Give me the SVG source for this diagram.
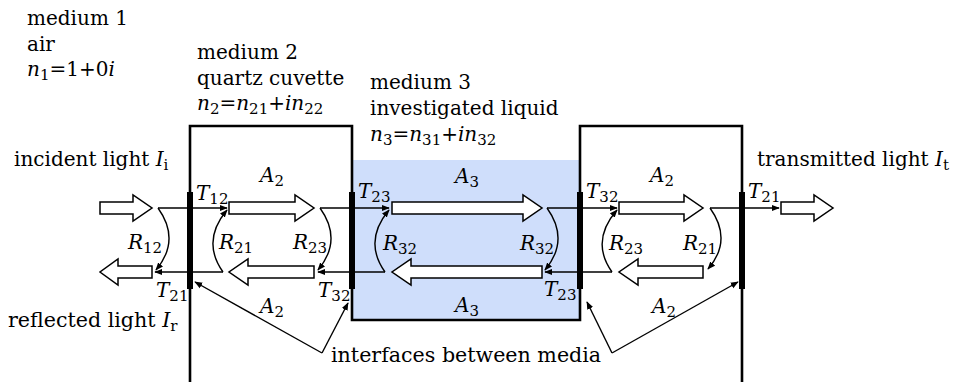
<svg xmlns="http://www.w3.org/2000/svg" width="957" height="382" viewBox="0 0 957 382">
<style>
text{font-family:"DejaVu Serif","Liberation Serif",serif;font-size:20px;fill:#000}
.i{font-style:italic}
.s{font-size:15px}
.wall{fill:none;stroke:#000;stroke-width:2.6}
.bar{stroke:#000;stroke-width:6}
.ha{fill:#fff;stroke:#000;stroke-width:1.5;stroke-linejoin:miter}
.ray{fill:none;stroke:#000;stroke-width:1.4}
</style>
<defs>
<marker id="ah" viewBox="0 0 10 10" refX="9" refY="5" markerWidth="8" markerHeight="8" markerUnits="userSpaceOnUse" orient="auto">
<path d="M0,1 L10,5 L0,9 z" fill="#000"/>
</marker>
</defs>
<rect x="352" y="160" width="228" height="160" fill="#cfdefb"/>
<g id="cuvette">
<path class="wall" d="M190,382 V126 H352 V320 H580 V126 H742 V382"/>
</g>
<g id="interfaces">
<line class="bar" x1="190" y1="192" x2="190" y2="289"/>
<line class="bar" x1="352" y1="192" x2="352" y2="289"/>
<line class="bar" x1="580" y1="192" x2="580" y2="289"/>
<line class="bar" x1="742" y1="192" x2="742" y2="289"/>
</g>
<g id="media-labels">
<text x="27" y="25">medium 1</text>
<text x="27" y="51">air</text>
<text x="27" y="76"><tspan class="i">n</tspan><tspan class="s" dy="4">1</tspan><tspan dy="-4">=1+0</tspan><tspan class="i">i</tspan></text>
<text x="197" y="59">medium 2</text>
<text x="197" y="85">quartz cuvette</text>
<text x="197" y="110"><tspan class="i">n</tspan><tspan class="s" dy="4">2</tspan><tspan dy="-4">=</tspan><tspan class="i">n</tspan><tspan class="s" dy="4">21</tspan><tspan dy="-4">+</tspan><tspan class="i">in</tspan><tspan class="s" dy="4">22</tspan></text>
<text x="370" y="89">medium 3</text>
<text x="370" y="115">investigated liquid</text>
<text x="370" y="141"><tspan class="i">n</tspan><tspan class="s" dy="4">3</tspan><tspan dy="-4">=</tspan><tspan class="i">n</tspan><tspan class="s" dy="4">31</tspan><tspan dy="-4">+</tspan><tspan class="i">in</tspan><tspan class="s" dy="4">32</tspan></text>
</g>
<g id="incident">
<text x="14" y="166">incident light <tspan class="i">I</tspan><tspan class="s" dy="4">i</tspan></text>
<polygon class="ha" points="100,202 133,202 133,195 152,208 133,221 133,214 100,214"/>
</g>
<g id="reflected">
<text x="8" y="327" style="font-size:20.6px">reflected light <tspan class="i">I</tspan><tspan class="s" dy="4">r</tspan></text>
<polygon class="ha" points="152,266 118,266 118,259 100,272 118,285 118,278 152,278"/>
</g>
<g id="transmitted">
<text x="757" y="166">transmitted light <tspan class="i">I</tspan><tspan class="s" dy="4">t</tspan></text>
<polygon class="ha" points="781,202 814,202 814,195 833,208 814,221 814,214 781,214"/>
</g>
<g id="A2-left">
<polygon class="ha" points="229,202 295,202 295,195 314,208 295,221 295,214 229,214"/>
<polygon class="ha" points="314,266 248,266 248,259 229,272 248,285 248,278 314,278"/>
<text x="260" y="182"><tspan class="i">A</tspan><tspan class="s" dy="4">2</tspan></text>
<text x="260" y="313"><tspan class="i">A</tspan><tspan class="s" dy="4">2</tspan></text>
</g>
<g id="A3">
<polygon class="ha" points="392,202 523,202 523,195 542,208 523,221 523,214 392,214"/>
<polygon class="ha" points="542,266 411,266 411,259 392,272 411,285 411,278 542,278"/>
<text x="455" y="183"><tspan class="i">A</tspan><tspan class="s" dy="4">3</tspan></text>
<text x="455" y="312"><tspan class="i">A</tspan><tspan class="s" dy="4">3</tspan></text>
</g>
<g id="A2-right">
<polygon class="ha" points="619,202 684,202 684,195 703,208 684,221 684,214 619,214"/>
<polygon class="ha" points="703,266 638,266 638,259 619,272 638,285 638,278 703,278"/>
<text x="650" y="182"><tspan class="i">A</tspan><tspan class="s" dy="4">2</tspan></text>
<text x="652" y="313"><tspan class="i">A</tspan><tspan class="s" dy="4">2</tspan></text>
</g>
<g id="connectors">
<path class="ray" d="M158,208 H227" marker-end="url(#ah)"/>
<path class="ray" d="M320,208 H389" marker-end="url(#ah)"/>
<path class="ray" d="M547,208 H617" marker-end="url(#ah)"/>
<path class="ray" d="M710,208 H779" marker-end="url(#ah)"/>
<path class="ray" d="M223,272 H155" marker-end="url(#ah)"/>
<path class="ray" d="M385,272 H318" marker-end="url(#ah)"/>
<path class="ray" d="M612,272 H545" marker-end="url(#ah)"/>
<path class="ray" d="M158,208 Q181,240 156,270" marker-end="url(#ah)"/>
<path class="ray" d="M223,272 Q201,241 227,210" marker-end="url(#ah)"/>
<path class="ray" d="M320,208 Q343,240 318,270" marker-end="url(#ah)"/>
<path class="ray" d="M385,272 Q363,241 389,210" marker-end="url(#ah)"/>
<path class="ray" d="M547,208 Q570,240 545,270" marker-end="url(#ah)"/>
<path class="ray" d="M612,272 Q590,241 617,210" marker-end="url(#ah)"/>
<path class="ray" d="M710,208 Q733,240 708,269" marker-end="url(#ah)"/>
<path class="ray" d="M322,353 L195,282" marker-end="url(#ah)"/>
<path class="ray" d="M322,353 L348,303" marker-end="url(#ah)"/>
<path class="ray" d="M612,353 L587,302" marker-end="url(#ah)"/>
<path class="ray" d="M612,353 L738,282" marker-end="url(#ah)"/>
</g>
<g id="coeff-labels">
<text x="196" y="200"><tspan class="i">T</tspan><tspan class="s" dy="4">12</tspan></text>
<text x="358" y="198"><tspan class="i">T</tspan><tspan class="s" dy="4">23</tspan></text>
<text x="586" y="198"><tspan class="i">T</tspan><tspan class="s" dy="4">32</tspan></text>
<text x="748" y="198"><tspan class="i">T</tspan><tspan class="s" dy="4">21</tspan></text>
<text x="156" y="297"><tspan class="i">T</tspan><tspan class="s" dy="4">21</tspan></text>
<text x="318" y="297"><tspan class="i">T</tspan><tspan class="s" dy="4">32</tspan></text>
<text x="544" y="296"><tspan class="i">T</tspan><tspan class="s" dy="4">23</tspan></text>
<text x="128" y="249"><tspan class="i">R</tspan><tspan class="s" dy="4">12</tspan></text>
<text x="219" y="249"><tspan class="i">R</tspan><tspan class="s" dy="4">21</tspan></text>
<text x="293" y="249"><tspan class="i">R</tspan><tspan class="s" dy="4">23</tspan></text>
<text x="383" y="250"><tspan class="i">R</tspan><tspan class="s" dy="4">32</tspan></text>
<text x="520" y="250"><tspan class="i">R</tspan><tspan class="s" dy="4">32</tspan></text>
<text x="609" y="250"><tspan class="i">R</tspan><tspan class="s" dy="4">23</tspan></text>
<text x="683" y="250"><tspan class="i">R</tspan><tspan class="s" dy="4">21</tspan></text>
</g>
<text x="331" y="362" style="font-size:20.6px">interfaces between media</text>
</svg>
